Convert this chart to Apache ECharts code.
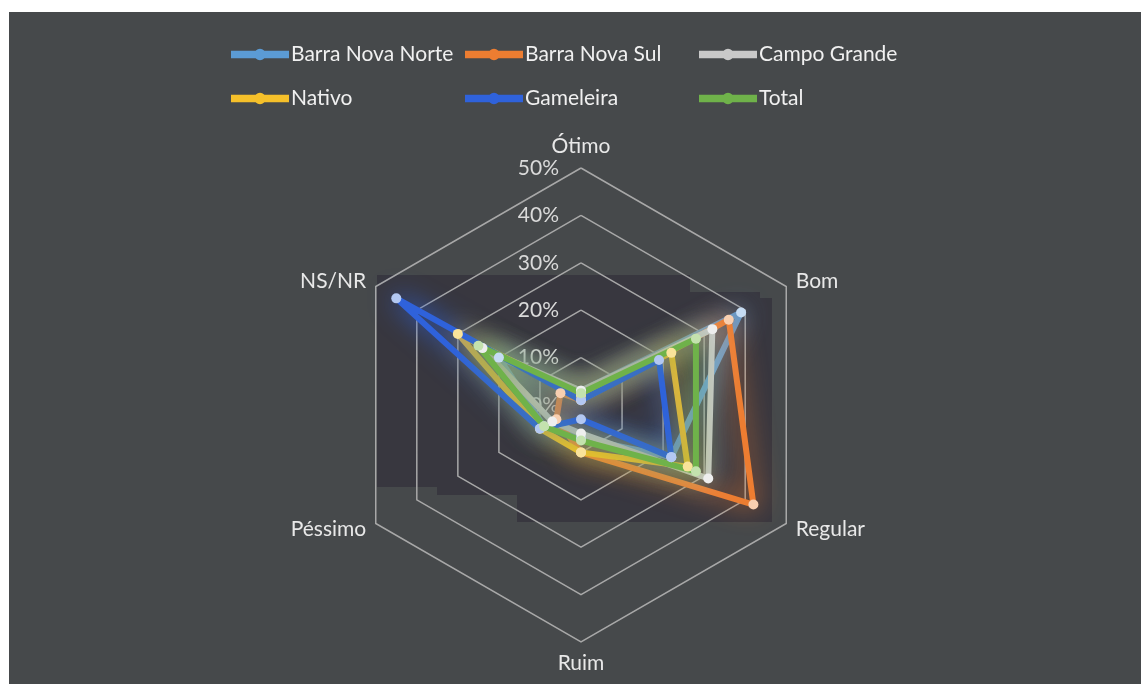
<!DOCTYPE html>
<html>
<head>
<meta charset="utf-8">
<title>Avaliação por localidade</title>
<script src="https://cdn.jsdelivr.net/npm/echarts@6/dist/echarts.min.js"></script>
<style>
  html, body { margin: 0; padding: 0; background: #ffffff; }
  #chart { position: absolute; left: 9px; top: 12px; width: 1132px; height: 672px; }
</style>
</head>
<body>
<div id="chart"></div>
<script>
// categories go round the web clockwise from the top
const categories = ["Ótimo", "Bom", "Regular", "Ruim", "Péssimo", "NS/NR"];
const tickLabels = ["0%", "10%", "20%", "30%", "40%", "50%"];

// percentages, same order as categories
const barraNovaNorte = [3, 39, 22, 7, 9, 20];
const barraNovaSul = [1, 36, 42, 10, 6, 5];
const campoGrande = [3, 32, 31, 6, 7, 24];
const nativo = [2, 22, 26, 10, 10, 30];
const gameleira = [1, 19, 22, 3, 10, 45];
const total = [2.5, 28, 28, 7.5, 9, 25];

const seriesNames = ["Barra Nova Norte", "Barra Nova Sul", "Campo Grande", "Nativo", "Gameleira", "Total"];
const seriesValues = [barraNovaNorte, barraNovaSul, campoGrande, nativo, gameleira, total];
const lineColors = ["#5b9bd5", "#ed7d31", "#c9c9c9", "#f5c02a", "#2f62db", "#6fb24a"];
const dotColors = ["#c6dcf3", "#f8cfb0", "#eeeeee", "#f9e39a", "#b3c8f2", "#c4e2ae"];

// echarts lays radar indicators out counter-clockwise, so walk the list backwards
const order = [0, 5, 4, 3, 2, 1];

const font = "Lato";
const legendIcon = "path://M0,2h60v8h-60z M30,0a6,6 0 1,1 -0.01,0z";

const chart = echarts.init(document.getElementById("chart"));

const legends = [0, 1, 2].map(col => ({
  orient: "vertical",
  left: 217 + 234 * col,
  top: 27,
  itemWidth: 58,
  itemHeight: 12,
  itemGap: 23,
  icon: legendIcon,
  selectedMode: false,
  textStyle: { color: "#f0f0f0", fontSize: 21, fontFamily: font, padding: [0, 0, 0, -3] },
  data: [col, col + 3].map(i => ({ name: seriesNames[i], itemStyle: { color: lineColors[i] } }))
}));

chart.setOption({
  backgroundColor: "#46494b",
  animation: false,
  graphic: [{
    type: "polygon",
    z: -1,
    shape: {
      points: [[368, 263], [681, 263], [681, 280], [751, 280], [751, 286], [763, 286],
               [763, 510], [508, 510], [508, 483], [428, 483], [428, 475], [368, 475]]
    },
    style: { fill: "#38373f" }
  }],
  legend: legends,
  radar: {
    center: [572, 393],
    radius: 237,
    startAngle: 90,
    splitNumber: 5,
    shape: "polygon",
    nameGap: 11,
    indicator: order.map(i => ({ name: categories[i], min: 0, max: 50 })),
    axisName: { color: "#e8e8e8", fontSize: 21, fontFamily: font },
    axisLine: { show: false },
    axisTick: { show: false },
    axisLabel: { show: false },
    splitLine: { lineStyle: { color: "#a8a8a8", width: 1.5 } },
    splitArea: { show: false }
  },
  // value axis laid over the Ótimo spoke, only for its tick labels
  grid: { left: 572, top: 156, width: 1, height: 237 },
  xAxis: { type: "value", show: false },
  yAxis: {
    type: "value",
    min: 0,
    max: 50,
    interval: 10,
    axisLine: { show: false },
    axisTick: { show: false },
    splitLine: { show: false },
    axisLabel: {
      margin: 22,
      color: "#dadada",
      fontSize: 21,
      fontFamily: font,
      formatter: v => tickLabels[Math.round(v / 10)]
    }
  },
  series: seriesNames.map((name, s) => ({
    type: "radar",
    name: name,
    symbol: "circle",
    symbolSize: 10,
    lineStyle: {
      color: lineColors[s],
      width: 6,
      shadowBlur: 26,
      shadowColor: lineColors[s]
    },
    itemStyle: { color: dotColors[s] },
    data: [{ name: name, value: order.map(i => seriesValues[s][i]) }]
  }))
});
</script>
</body>
</html>
